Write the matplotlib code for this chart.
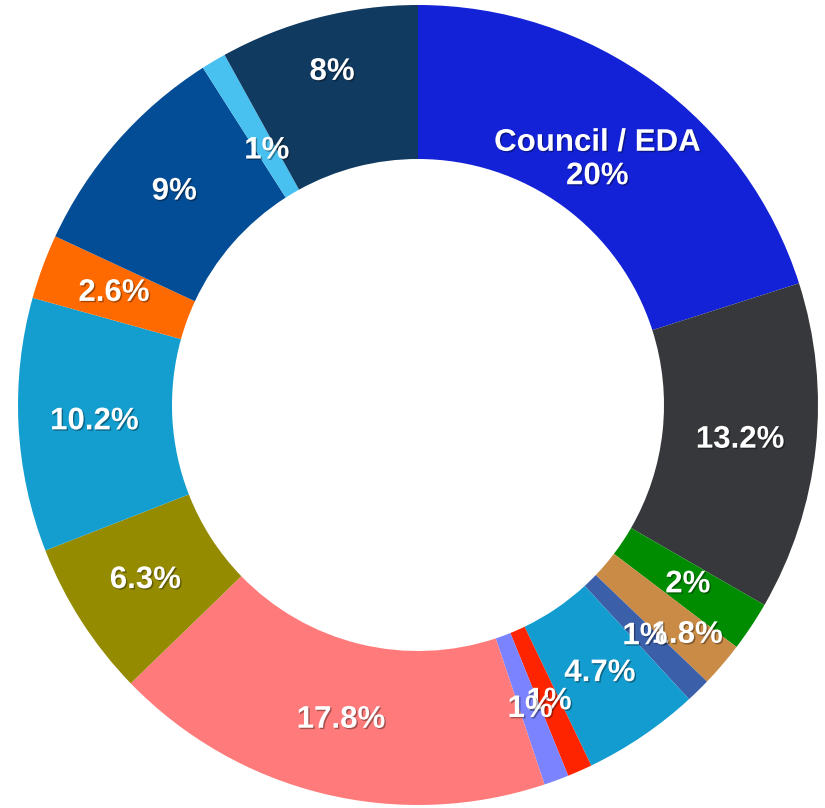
import numpy as np
import matplotlib
matplotlib.use("Agg")
import matplotlib.pyplot as plt
import matplotlib.patheffects as pe

# slices, clockwise from 12 o'clock
names = ["Council / EDA", "", "", "", "", "", "", "", "", "", "", "", "", "", ""]
values = [20, 13.2, 2, 1.8, 1, 4.7, 1, 1, 17.8, 6.3, 10.2, 2.6, 9, 1, 8]
labels = ["20%", "13.2%", "2%", "1.8%", "1%", "4.7%", "1%", "1%", "17.8%",
          "6.3%", "10.2%", "2.6%", "9%", "1%", "8%"]
colors = ["#1322D6", "#37383B", "#008C00", "#C98B45", "#3C5FAA", "#129CCF",
          "#FF2400", "#7B83FF", "#FF7B7B", "#948B00", "#139ECF", "#FF6A00",
          "#024D96", "#48C0F0", "#113A60"]

# a few labels were pushed in/out to dodge their neighbours
label_r = {0: 0.76, 3: 0.885, 13: 0.74, 14: 0.86}

W, H = 825, 808
R = 400
cx, cy = 418, 405

fig = plt.figure(figsize=(W / 100, H / 100), dpi=100)
ax = fig.add_axes([(cx - R) / W, (H - cy - R) / H, 2 * R / W, 2 * R / H])

wedges, _ = ax.pie(values, colors=colors, startangle=90, counterclock=False,
                   radius=1.0, wedgeprops=dict(width=0.385, linewidth=0))

shadow = [pe.withSimplePatchShadow(offset=(1, -1), shadow_rgbFace="black", alpha=0.35)]
for i, w in enumerate(wedges):
    ang = np.deg2rad((w.theta1 + w.theta2) / 2)
    r = label_r.get(i, 0.81)
    txt = labels[i] if not names[i] else names[i] + "\n" + labels[i]
    ax.text(r * np.cos(ang), r * np.sin(ang), txt, ha="center", va="center",
            color="white", fontsize=22.5, fontweight="bold",
            family=["Liberation Sans", "DejaVu Sans"], linespacing=1.15,
            path_effects=shadow)

ax.set_xlim(-1, 1)
ax.set_ylim(-1, 1)
ax.axis("off")

fig.savefig("out.png", dpi=100, facecolor="white")
